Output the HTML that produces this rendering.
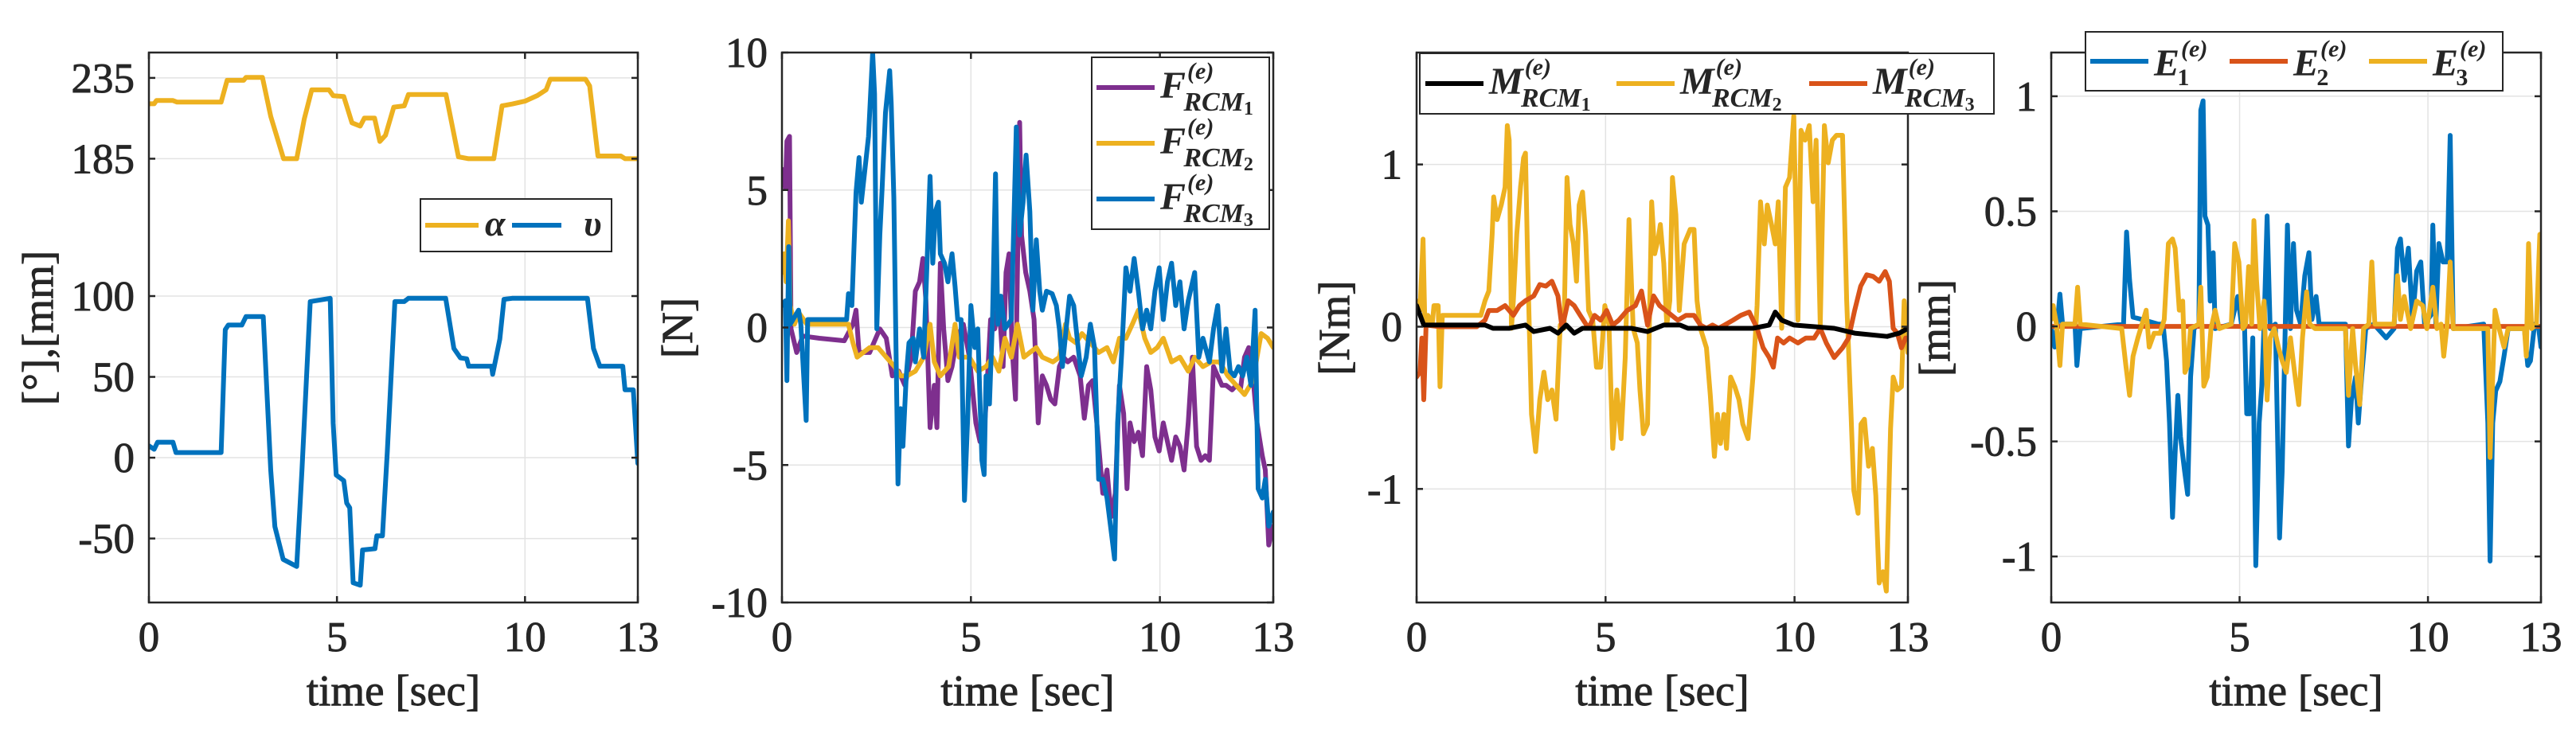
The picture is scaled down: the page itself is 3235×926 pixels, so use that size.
<!DOCTYPE html>
<html><head><meta charset="utf-8">
<style>
html,body{margin:0;padding:0;background:#fff;}
svg{display:block;}
text{font-family:"Liberation Serif",serif;fill:#262626;}
text.ax{stroke:#262626;stroke-width:0.9px;}
</style></head>
<body>
<svg id="chart" width="3235" height="926" viewBox="0 0 3235 926" xmlns="http://www.w3.org/2000/svg"></svg>
<script>
// ---------- Panel 1 data ----------
const alphaTime=[0,0.14,0.2,0.64,0.75,1.92,2.08,2.52,2.58,3.02,3.24,3.58,3.93,4.13,4.33,4.79,4.9,5.18,5.29,5.4,5.62,5.73,6.0,6.14,6.29,6.51,6.79,6.9,7.9,8.23,8.5,9.17,9.39,9.67,10.0,10.33,10.56,10.67,11.61,11.72,11.94,12.55,12.66,13];
const alphaVal=[219,219,221,221,220,220,233.5,233.5,235.3,235.3,211.2,185,185,209.6,227.6,227.6,224,223.5,215.3,207.2,205.2,210.1,210.1,195.7,199.5,216.9,217.7,224.7,224.7,186.2,185,185,217.7,218.9,220.6,224.1,227.6,234.2,234.2,230,186.7,186.7,185,185];
const vTime=[0,0.14,0.23,0.64,0.72,1.92,2.03,2.11,2.47,2.58,3.04,3.24,3.35,3.57,3.93,4.07,4.29,4.82,4.9,4.98,5.18,5.26,5.34,5.43,5.62,5.68,6.01,6.06,6.21,6.34,6.54,6.79,6.9,7.89,8.11,8.28,8.45,8.5,9.11,9.14,9.33,9.44,9.66,11.66,11.82,11.99,12.6,12.66,12.88,13];
const vVal=[7.3,5.2,9.6,9.6,3.2,3.2,79.2,82.1,82.1,87.3,87.3,-7.8,-42.6,-62.9,-67.3,-7.8,96.6,98.6,21.2,-10.7,-14.2,-28.1,-31,-77.4,-78.9,-57.1,-56.3,-48.4,-48.4,3.8,96.6,96.6,98.6,98.6,67.6,61.8,61.2,56.6,56.6,51.6,73.4,98,98.6,98.6,67.6,56.6,56.6,42,42,-3.5];
const p1Ticks=[-50,0,50,100,185,235];
const xTicks=[0,5,10,13];

// ---------- Panel 2 data ----------
const f3Time=[0,.09,.13,.18,.22,.44,.5,.64,.68,1.71,1.76,1.85,1.96,2.04,2.1,2.21,2.29,2.4,2.45,2.51,2.59,2.65,2.74,2.85,2.89,2.96,3.07,3.14,3.2,3.29,3.36,3.47,3.53,3.64,3.75,3.92,3.99,4.06,4.14,4.19,4.3,4.39,4.5,4.58,4.65,4.74,4.83,4.91,5.0,5.1,5.18,5.29,5.35,5.4,5.49,5.57,5.65,5.71,5.79,5.9,6.07,6.2,6.29,6.38,6.46,6.56,6.64,6.73,6.82,6.89,7.0,7.15,7.26,7.34,7.42,7.52,7.61,7.72,7.81,7.92,8.05,8.16,8.27,8.38,8.49,8.6,8.71,8.8,8.88,8.99,9.1,9.21,9.32,9.43,9.54,9.65,9.76,9.87,9.98,10.09,10.2,10.31,10.42,10.53,10.64,10.75,10.92,11.03,11.14,11.31,11.42,11.53,11.64,11.75,11.86,11.97,12.08,12.19,12.3,12.41,12.52,12.6,12.71,12.79,12.88,13];
const f3Val=[0.8,0.97,-1.93,2.94,0.12,0.63,0.12,-3.38,0.29,0.29,1.23,0.8,4.9,6.18,4.56,5.93,6.95,10,8.49,-0.05,3.36,5.07,7.81,9.34,8.15,4.73,-5.69,-2.95,-4.32,-1.76,-0.56,-0.39,-1.25,-0.05,-1.08,5.5,2.34,4.22,4.56,2.68,2.34,1.66,2.68,1.49,0.29,0.29,-6.29,-3.47,0.8,-0.73,-0.05,-4.83,-5.35,-1.76,-2.78,0.29,5.59,0.12,1.14,-0.05,0.29,7.29,3.36,4.56,6.27,4.22,0.63,3.19,1.32,0.63,1.32,1.23,0.8,-0.05,-1.42,-0.05,1.14,0.8,-0.39,-1.76,-1.08,0.12,-0.73,-5.52,-5.52,-6.2,-7.4,-8.42,-3.47,-0.91,2.17,1.32,2.51,1.32,-0.05,0.63,-0.05,1.32,2.17,0.29,1.66,2.34,0.8,1.66,-0.05,0.97,2.0,-1.08,-0.39,-1.25,-0.05,0.8,-1.59,-0.05,-1.59,-1.76,-1.42,-1.76,-1.08,-2.1,0.63,-5.86,-6.2,-5.52,-7.22,-6.71];
const f1Time=[0,.09,.13,.2,.24,.39,.55,.99,1.65,1.88,1.96,2.04,2.32,2.59,2.76,2.92,3.09,3.25,3.42,3.53,3.64,3.73,3.81,3.92,4.03,4.1,4.19,4.28,4.39,4.5,4.63,4.8,4.96,5.13,5.24,5.33,5.4,5.52,5.63,5.74,5.85,5.93,6.01,6.09,6.18,6.29,6.34,6.45,6.56,6.67,6.78,6.89,7.0,7.11,7.22,7.34,7.45,7.56,7.72,7.89,8.0,8.11,8.22,8.33,8.49,8.6,8.71,8.82,8.93,9.04,9.13,9.21,9.32,9.43,9.54,9.65,9.76,9.87,9.98,10.09,10.2,10.31,10.42,10.53,10.64,10.75,10.86,10.97,11.09,11.2,11.31,11.42,11.53,11.64,11.75,11.91,12.02,12.13,12.24,12.35,12.46,12.57,12.71,12.79,12.88,13];
const f1Val=[5.76,5.07,6.78,6.95,-0.05,-0.91,-0.31,-0.39,-0.48,0.12,0.63,-0.91,-0.91,-0.05,-0.39,-1.76,-1.59,-2.1,-1.08,1.32,1.66,2.51,0.97,-3.64,-2.1,-3.64,2.34,-0.05,-1.93,-1.42,-0.39,0.12,-1.08,-3.47,-4.15,-4.15,-2.78,0.29,-0.05,0.97,-1.42,2.0,2.68,-0.73,-2.61,7.46,3.36,2.0,1.32,0.29,-3.47,-1.76,-2.1,-2.61,-2.78,-1.42,-1.08,-1.25,-1.08,-1.76,-3.3,-2.1,-1.93,-3.47,-6.03,-5.18,-6.88,-6.03,-2.1,-3.13,-5.86,-3.47,-4.15,-3.81,-4.66,-1.42,-2.27,-3.98,-4.49,-3.47,-4.15,-4.83,-3.98,-4.32,-5.18,-3.47,-1.08,-4.32,-4.83,-4.66,-4.83,-1.42,-1.76,-2.1,-2.1,-2.27,-2.1,-2.27,-1.08,-0.73,-1.76,-3.47,-4.66,-5.18,-7.91,-7.22];
const f2Time=[0,.06,.11,.17,.22,.33,.44,.66,1.76,1.88,1.99,2.32,2.54,2.76,2.98,3.14,3.31,3.53,3.75,3.92,4.03,4.19,4.41,4.58,4.69,4.96,5.18,5.4,5.57,5.74,5.9,6.07,6.23,6.4,6.56,6.73,6.89,7.17,7.34,7.5,7.61,7.78,7.94,8.16,8.38,8.6,8.77,8.93,9.1,9.27,9.43,9.6,9.76,9.93,10.09,10.31,10.53,10.75,10.92,11.14,11.36,11.58,11.8,12.02,12.24,12.46,12.68,12.85,13];
const f2Val=[2.0,2.68,1.66,3.88,0.8,0.12,0.55,0.12,0.12,-0.56,-1.08,-0.73,-0.73,-1.08,-1.42,-1.76,-1.76,-1.59,-1.08,0.12,-1.25,-1.76,-1.42,0.12,-1.08,-1.08,-1.59,-1.42,-1.08,-1.59,-0.39,-1.08,0.12,-1.08,-0.91,-0.73,-1.08,-1.25,-1.08,0.12,-0.39,-0.56,-0.22,-0.56,-0.91,-0.73,-1.25,-0.39,-0.39,0.12,0.63,-0.39,-0.91,-0.73,-0.39,-1.25,-1.08,-1.59,-1.08,-1.42,-1.25,-1.25,-1.76,-2.1,-2.44,-1.93,-0.22,-0.39,-0.73];
const p2Ticks=[-10,-5,0,5,10];

// ---------- Panel 3 data ----------
const m2Time=[0,.09,.17,.22,.3,.41,.46,.57,.62,.68,1.7,1.81,1.91,2.0,2.04,2.13,2.24,2.34,2.4,2.45,2.51,2.56,2.65,2.75,2.83,2.88,2.94,3.04,3.15,3.26,3.37,3.47,3.58,3.69,3.8,3.9,3.98,4.06,4.15,4.23,4.3,4.39,4.47,4.55,4.66,4.76,4.87,4.98,5.09,5.19,5.3,5.41,5.52,5.62,5.73,5.84,5.91,6.0,6.11,6.22,6.3,6.39,6.45,6.54,6.62,6.7,6.77,6.86,6.95,7.08,7.24,7.34,7.42,7.51,7.67,7.77,7.88,7.96,8.04,8.13,8.2,8.31,8.42,8.53,8.63,8.77,8.9,9.01,9.1,9.2,9.28,9.39,9.49,9.57,9.66,9.76,9.87,9.98,10.09,10.17,10.28,10.39,10.49,10.57,10.68,10.79,10.89,11.0,11.11,11.27,11.38,11.48,11.57,11.68,11.76,11.85,11.96,12.06,12.15,12.24,12.34,12.43,12.54,12.61,12.72,12.83,12.9,13];
const m2Val=[.16,.10,.54,.01,.07,.01,.13,.13,-.37,.07,.07,.16,.22,.57,.8,.66,.75,.86,1.24,1.15,-.01,.16,.57,.86,1.04,1.07,.39,-.54,-.77,-.45,-.28,-.45,-.39,-.57,.01,-.01,.92,.63,.51,.28,.75,.83,.57,.1,.04,-.25,-.25,.13,.01,-.75,-.39,-.69,-.19,.66,-.01,-.1,-.39,-.66,-.6,.77,.45,.54,.63,.39,.01,.16,.92,.69,.1,.51,.6,.6,.16,-.01,-.13,-.42,-.8,-.54,-.72,-.54,-.75,-.31,-.37,-.45,-.6,-.69,-.31,.13,.77,.51,.75,.63,.51,.77,-.01,.86,.92,1.3,.04,1.21,1.15,1.24,.77,1.15,.01,1.24,1.01,1.15,1.18,1.18,.16,-.45,-1.01,-1.15,-.6,-.57,-.86,-.75,-1.04,-1.58,-1.51,-1.63,-.63,-.31,-.39,-.37,.16,-.16];
const m3Time=[0,.09,.14,.19,.25,.62,1.59,1.81,1.91,2.13,2.34,2.56,2.72,2.88,3.1,3.26,3.42,3.58,3.74,3.85,4.01,4.17,4.33,4.55,4.71,4.87,5.03,5.19,5.35,5.57,5.79,5.95,6.11,6.27,6.43,6.59,6.75,6.91,7.13,7.34,7.51,7.67,7.83,7.99,8.15,8.37,8.58,8.8,9.01,9.17,9.33,9.44,9.55,9.71,9.87,10.09,10.3,10.52,10.68,10.84,11.05,11.27,11.43,11.59,11.75,11.91,12.08,12.24,12.4,12.51,12.61,12.72,12.83,12.94,13];
const m3Val=[-.31,-.28,-.07,-.45,.01,0,0,.04,.1,.1,.13,.07,.13,.16,.19,.26,.25,.28,.19,-.01,.16,.13,.07,-.01,.07,.04,.1,.01,.04,.1,.13,.22,.01,.19,.13,.1,.07,.04,.07,.07,.01,-.01,.01,-.01,.01,.04,.07,.09,-.01,-.13,-.19,-.25,-.07,-.1,-.07,-.1,-.07,-.07,-.01,-.1,-.19,-.13,-.07,.1,.25,.32,.31,.28,.34,.28,-.01,-.04,-.13,-.07,-.07];
const m1Time=[0,.19,1.81,2.02,2.45,2.88,3.1,3.53,3.74,3.96,4.17,4.39,5.25,5.68,6.11,6.54,6.97,7.18,8.9,9.33,9.49,9.66,9.98,11.05,11.59,12.45,12.77,13];
const m1Val=[.13,.01,.01,-.01,-.01,.01,-.03,-.01,-.04,.01,-.04,-.01,-.01,-.01,-.03,.01,.01,-.01,-.01,.01,.09,.04,.01,-.01,-.04,-.06,-.04,-.01];
const p3Ticks=[-1,0,1];

// ---------- Panel 4 data ----------
const e1Time=[0,.09,.16,.23,.3,.63,.68,.77,1.92,2.0,2.08,2.17,2.41,2.84,2.97,3.06,3.14,3.22,3.29,3.36,3.43,3.54,3.62,3.7,3.79,3.92,3.97,4.03,4.08,4.16,4.22,4.3,4.35,4.78,4.95,5.05,5.13,5.19,5.27,5.35,5.43,5.52,5.59,5.65,5.73,5.81,5.95,6.06,6.13,6.21,6.27,6.35,6.43,6.51,6.62,6.73,6.84,6.92,7.03,7.11,7.81,7.89,7.97,8.08,8.15,8.24,8.35,8.56,8.89,9.1,9.19,9.27,9.37,9.48,9.59,9.7,9.81,9.91,10.08,10.13,10.21,10.29,10.4,10.51,10.59,10.67,11.48,11.59,11.65,11.72,11.8,11.91,12.02,12.13,12.56,12.65,12.72,12.83,12.94,13];
const e1Val=[-.01,-.09,.01,.14,.01,.01,-.17,-.01,.01,.41,.2,.04,.03,.01,.01,-.15,-.42,-.83,-.55,-.3,-.48,-.63,-.73,-.22,-.01,.01,.94,.98,.48,.44,.11,.32,-.01,.01,.13,.01,.01,-.38,-.38,-.05,-1.04,-.42,-.26,.01,.48,-.01,.01,-.92,-.63,-.01,.44,-.01,.36,.07,.01,.22,.32,.03,.13,.01,.01,-.52,-.32,-.22,-.42,-.22,-.01,.01,-.05,-.01,.34,.38,.2,.34,.03,.24,.28,.01,.05,.44,.01,.36,.28,.28,.83,-.01,.01,-.42,-1.02,-.42,-.28,-.24,-.13,-.01,-.01,-.17,-.15,.01,-.01,-.09];
const e3Time=[0,.05,.14,.23,.3,.63,.7,.77,1.87,1.98,2.08,2.17,2.3,2.52,2.6,2.73,2.89,3.0,3.11,3.22,3.29,3.4,3.49,3.55,3.62,3.7,3.92,3.97,4.05,4.14,4.24,4.35,4.46,4.78,4.87,4.98,5.09,5.16,5.24,5.32,5.38,5.45,5.54,5.65,5.73,5.81,5.92,6.03,6.13,6.24,6.35,6.46,6.57,6.67,6.78,6.86,7.0,7.81,7.89,8.0,8.08,8.19,8.29,8.43,8.51,8.59,9.1,9.19,9.27,9.37,9.54,9.7,9.86,9.97,10.13,10.24,10.35,10.42,10.51,10.59,10.67,11.59,11.65,11.72,11.78,11.89,12.02,12.13,12.56,12.61,12.67,12.75,12.88,12.97,13];
const e3Val=[.03,.09,.01,-.17,.01,.01,.17,.01,-.01,-.17,-.3,-.13,-.05,.07,-.09,-.03,-.03,.03,.36,.38,.34,.07,.11,-.2,-.17,-.01,.01,.17,-.26,-.22,-.01,.07,-.01,.01,.36,.28,-.01,.01,.26,.01,.46,.2,-.01,.11,-.32,-.05,-.01,-.09,-.15,-.2,-.05,-.2,-.34,-.05,.15,.01,-.01,-.01,-.3,-.01,-.17,-.34,-.01,.01,.28,.01,.01,.22,.03,.13,-.01,.11,.09,-.01,.17,-.01,.01,-.13,.01,.28,-.01,-.01,-.57,-.22,.07,-.01,-.09,-.01,-.01,-.13,.36,-.01,.01,.4,.26];
const e2Time=[0,13];
const e2Val=[0,0];
const p4Ticks=[-1,-0.5,0,0.5,1];

// ---------- rendering ----------
const NS='http://www.w3.org/2000/svg';
const svg=document.getElementById('chart');
const C={blue:'#0072BD',orange:'#D95319',yellow:'#EDB120',purple:'#7E2F8E',black:'#000000'};
function mk(tag,attrs,parent){const e=document.createElementNS(NS,tag);for(const k in attrs)e.setAttribute(k,attrs[k]);(parent||svg).appendChild(e);return e;}

const panels=[
 {id:'p1',x0:187,x1:801,y0:66,y1:757,ymin:-89.6,ymax:250.7,yt:p1Ticks,ylab:'[°],[mm]',ylx:48,
  series:[{n:'alpha-line',t:alphaTime,v:alphaVal,c:C.yellow},{n:'v-line',t:vTime,v:vVal,c:C.blue}]},
 {id:'p2',x0:982,x1:1599,y0:66,y1:757,ymin:-10,ymax:10,yt:p2Ticks,ylab:'[N]',ylx:851,
  series:[{n:'f-rcm1-line',t:f1Time,v:f1Val,c:C.purple},{n:'f-rcm2-line',t:f2Time,v:f2Val,c:C.yellow},{n:'f-rcm3-line',t:f3Time,v:f3Val,c:C.blue}]},
 {id:'p3',x0:1779,x1:2396,y0:66,y1:757,ymin:-1.7,ymax:1.69,yt:p3Ticks,ylab:'[Nm]',ylx:1676,
  series:[{n:'m-rcm2-line',t:m2Time,v:m2Val,c:C.yellow},{n:'m-rcm3-line',t:m3Time,v:m3Val,c:C.orange},{n:'m-rcm1-line',t:m1Time,v:m1Val,c:C.black}]},
 {id:'p4',x0:2576,x1:3191,y0:66,y1:757,ymin:-1.2,ymax:1.19,yt:p4Ticks,ylab:'[mm]',ylx:2430,
  series:[{n:'e1-line',t:e1Time,v:e1Val,c:C.blue},{n:'e2-line',t:e2Time,v:e2Val,c:C.orange},{n:'e3-line',t:e3Time,v:e3Val,c:C.yellow}]}
];

const defs=mk('defs',{});
panels.forEach(p=>{
  const xs=t=>p.x0+(t/13)*(p.x1-p.x0);
  const ys=v=>p.y1-(v-p.ymin)/(p.ymax-p.ymin)*(p.y1-p.y0);
  const g=mk('g',{});
  
  
  const cp=mk('clipPath',{id:'clip-'+p.id},defs);
  mk('rect',{x:p.x0,y:p.y0,width:p.x1-p.x0,height:p.y1-p.y0},cp);
  xTicks.forEach(t=>{
    if(t>0&&t<13){const gl=mk('line',{x1:xs(t),x2:xs(t),y1:p.y0,y2:p.y1,stroke:'#e3e3e3','stroke-width':1.5},g);
      }
  });
  p.yt.forEach(v=>{
    const y=ys(v);
    if(y>p.y0+1&&y<p.y1-1){const gl=mk('line',{x1:p.x0,x2:p.x1,y1:y,y2:y,stroke:'#e3e3e3','stroke-width':1.5},g);
      }
  });
  const sg=mk('g',{'clip-path':'url(#clip-'+p.id+')'},g);
  p.series.forEach(s=>{
    const n=Math.min(s.t.length,s.v.length);
    let d='';
    for(let i=0;i<n;i++){d+=(i?'L':'M')+xs(Math.min(s.t[i],13)).toFixed(1)+' '+ys(s.v[i]).toFixed(1);}
    const path=mk('path',{d:d,fill:'none',stroke:s.c,'stroke-width':6,'stroke-linejoin':'round','stroke-linecap':'round'},sg);
    
    
  });
  const box=mk('rect',{x:p.x0,y:p.y0,width:p.x1-p.x0,height:p.y1-p.y0,fill:'none',stroke:'#262626','stroke-width':2.5},g);
  
  
  xTicks.forEach(t=>{
    const x=xs(t);
    mk('line',{x1:x,x2:x,y1:p.y1,y2:p.y1-8,stroke:'#262626','stroke-width':2.5},g);
    mk('line',{x1:x,x2:x,y1:p.y0,y2:p.y0+8,stroke:'#262626','stroke-width':2.5},g);
    const tx=mk('text',{x:x,y:818,'text-anchor':'middle','font-size':53,'class':'ax'},g);
    tx.textContent=t;
    
    
  });
  p.yt.forEach(v=>{
    const y=ys(v);
    mk('line',{x1:p.x0,x2:p.x0+8,y1:y,y2:y,stroke:'#262626','stroke-width':2.5},g);
    mk('line',{x1:p.x1,x2:p.x1-8,y1:y,y2:y,stroke:'#262626','stroke-width':2.5},g);
    const tx=mk('text',{x:p.x0-18,y:y+18,'text-anchor':'end','font-size':53,'class':'ax'},g);
    tx.textContent=String(v);
    
    
  });
  const xl=mk('text',{x:(p.x0+p.x1)/2,y:886,'text-anchor':'middle','font-size':55,'class':'ax'},g);
  xl.textContent='time [sec]';
  
  
  const yl=mk('text',{x:0,y:0,'text-anchor':'middle','font-size':55,'class':'ax',transform:'translate('+(p.ylx+18)+',412) rotate(-90)'},g);
  yl.textContent=p.ylab;
  
  
});

// ---------- legends ----------
function legendBox(x,y,w,h,name){
  const r=mk('rect',{x:x,y:y,width:w,height:h,fill:'#fff',stroke:'#262626','stroke-width':2});
  
  
}
function legLine(x1,x2,y,c,name){
  const l=mk('line',{x1:x1,x2:x2,y1:y,y2:y,stroke:c,'stroke-width':6});
  
  
}
function mathLabel(x,y,sym,sub,dig,name){
  const t=mk('text',{x:x,y:y+13,'font-size':48,'font-style':'italic','font-weight':'bold',fill:'#000'});
  
  
  const a=mk('tspan',{},t);a.textContent=sym;
  const sp=mk('tspan',{dx:2,dy:-24,'font-size':30},t);sp.textContent='(e)';
  const sb=mk('tspan',{dx:-38,dy:40,'font-size':34},t);sb.textContent=sub;
  if(dig){const d=mk('tspan',{dy:5,'font-size':24,'font-style':'normal'},t);d.textContent=dig;}
}
legendBox(528,250,240,66,'legend-panel1');
legLine(534,601,283,C.yellow,'legend-alpha-swatch');
const la=mk('text',{x:609,y:296,'font-size':46,'font-style':'italic','font-weight':'bold',fill:'#000'});la.textContent='α';


legLine(643,705,283,C.blue,'legend-v-swatch');
const lv=mk('text',{x:733,y:296,'font-size':46,'font-style':'italic','font-weight':'bold',fill:'#000'});lv.textContent='υ';


legendBox(1371,72,223,216,'legend-panel2');
[[110,C.purple,'1'],[180,C.yellow,'2'],[250,C.blue,'3']].forEach(e=>{
  legLine(1377,1450,e[0],e[1],'legend-f-rcm'+e[2]+'-swatch');
  mathLabel(1457,e[0],'F','RCM',e[2],'legend-f-rcm'+e[2]+'-label');
});
legendBox(1783,67,721,76,'legend-panel3');
[[1790,C.black,'1'],[2030,C.yellow,'2'],[2272,C.orange,'3']].forEach(e=>{
  legLine(e[0],e[0]+73,105,e[1],'legend-m-rcm'+e[2]+'-swatch');
  mathLabel(e[0]+80,105,'M','RCM',e[2],'legend-m-rcm'+e[2]+'-label');
});
legendBox(2619,40,524,74,'legend-panel4');
[[2625,C.blue,'1'],[2800,C.orange,'2'],[2975,C.yellow,'3']].forEach(e=>{
  legLine(e[0],e[0]+73,77,e[1],'legend-e'+e[2]+'-swatch');
  const t=mk('text',{x:e[0]+80,y:95,'font-size':48,'font-style':'italic','font-weight':'bold',fill:'#000'});
  
  
  const a=mk('tspan',{},t);a.textContent='E';
  const sp=mk('tspan',{dx:2,dy:-24,'font-size':30},t);sp.textContent='(e)';
  const sb=mk('tspan',{dx:-38,dy:36,'font-size':30,'font-style':'normal'},t);sb.textContent=e[2];
});
</script>
</body></html>
